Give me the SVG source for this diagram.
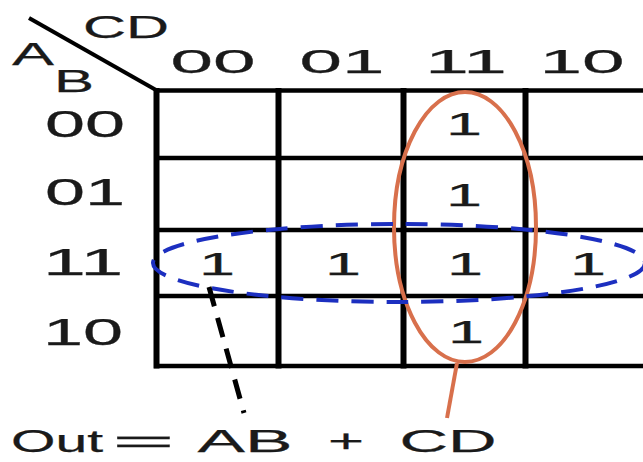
<svg xmlns="http://www.w3.org/2000/svg" width="643" height="462" viewBox="0 0 643 462">
<style>
text{font-family:"Liberation Sans",Arial,Helvetica,sans-serif;fill:#1a1a1a;stroke:#1a1a1a;stroke-width:0.25;text-anchor:middle}
.hd{font-size:34px}
.rl{font-size:36px}
.one{font-size:31px}
.eq{font-size:32px}
.gv{stroke:#000;stroke-width:6}
.gh{stroke:#000;stroke-width:4.5}
</style>
<rect width="643" height="462" fill="#fff"/>
<g id="grid">
<line class="gh" x1="154" y1="90.5" x2="643" y2="90.5"/>
<line class="gh" x1="154" y1="158" x2="643" y2="158"/>
<line class="gh" x1="154" y1="230" x2="643" y2="230"/>
<line class="gh" x1="154" y1="296" x2="643" y2="296"/>
<line class="gh" x1="154" y1="366" x2="643" y2="366"/>
<line class="gv" x1="156.5" y1="88" x2="156.5" y2="368.5"/>
<line class="gv" x1="278.5" y1="88" x2="278.5" y2="368.5"/>
<line class="gv" x1="403.5" y1="88" x2="403.5" y2="368.5"/>
<line class="gv" x1="525.5" y1="88" x2="525.5" y2="368.5"/>
<line x1="29" y1="18" x2="156" y2="90" stroke="#000" stroke-width="4"/>
</g>
<g id="axis-labels">
<text class="eq" x="126" y="38" textLength="86" lengthAdjust="spacingAndGlyphs">CD</text>
<text class="eq" x="33" y="65" textLength="42" lengthAdjust="spacingAndGlyphs">A</text>
<text class="eq" x="74" y="92" textLength="40" lengthAdjust="spacingAndGlyphs">B</text>
</g>
<g id="col-headers">
<text class="hd" x="213" y="73" textLength="85" lengthAdjust="spacingAndGlyphs">00</text>
<text class="hd" x="342" y="73" textLength="85" lengthAdjust="spacingAndGlyphs">01</text>
<text class="hd" x="466" y="73" textLength="82" lengthAdjust="spacingAndGlyphs">11</text>
<text class="hd" x="582" y="73" textLength="85" lengthAdjust="spacingAndGlyphs">10</text>
</g>
<g id="row-headers">
<text class="rl" x="85" y="137" textLength="80" lengthAdjust="spacingAndGlyphs">00</text>
<text class="rl" x="85" y="205" textLength="80" lengthAdjust="spacingAndGlyphs">01</text>
<text class="rl" x="83" y="275" textLength="80" lengthAdjust="spacingAndGlyphs">11</text>
<text class="rl" x="83" y="345" textLength="80" lengthAdjust="spacingAndGlyphs">10</text>
</g>
<g id="cells">
<text class="one" x="464" y="135" textLength="36" lengthAdjust="spacingAndGlyphs">1</text>
<text class="one" x="464" y="206" textLength="36" lengthAdjust="spacingAndGlyphs">1</text>
<text class="one" x="217" y="275" textLength="36" lengthAdjust="spacingAndGlyphs">1</text>
<text class="one" x="343" y="275" textLength="36" lengthAdjust="spacingAndGlyphs">1</text>
<text class="one" x="465" y="275" textLength="36" lengthAdjust="spacingAndGlyphs">1</text>
<text class="one" x="588" y="275" textLength="36" lengthAdjust="spacingAndGlyphs">1</text>
<text class="one" x="466" y="343" textLength="36" lengthAdjust="spacingAndGlyphs">1</text>
</g>
<g id="group-CD">
<ellipse cx="465" cy="227" rx="71" ry="135" fill="none" stroke="#d8704c" stroke-width="4"/>
</g>
<g id="group-AB">
<ellipse cx="399" cy="263" rx="246" ry="39" fill="none" stroke="#1c2fc0" stroke-width="4" stroke-dasharray="22 13"/>
</g>
<g id="connectors">
<line x1="209" y1="287" x2="244" y2="413" stroke="#000" stroke-width="5" stroke-dasharray="20 12"/>
<line x1="457" y1="363" x2="447" y2="418" stroke="#d8704c" stroke-width="4"/>
</g>
<g id="equation">
<text class="eq" x="11" y="452" textLength="92" lengthAdjust="spacingAndGlyphs" style="text-anchor:start">Out</text>
<text class="eq" x="143.5" y="452" textLength="62" lengthAdjust="spacingAndGlyphs">=</text>
<text class="eq" x="245" y="452" textLength="95" lengthAdjust="spacingAndGlyphs">AB</text>
<text class="eq" x="346" y="452" textLength="36" lengthAdjust="spacingAndGlyphs">+</text>
<text class="eq" x="448" y="452" textLength="97" lengthAdjust="spacingAndGlyphs">CD</text>
</g>
</svg>
